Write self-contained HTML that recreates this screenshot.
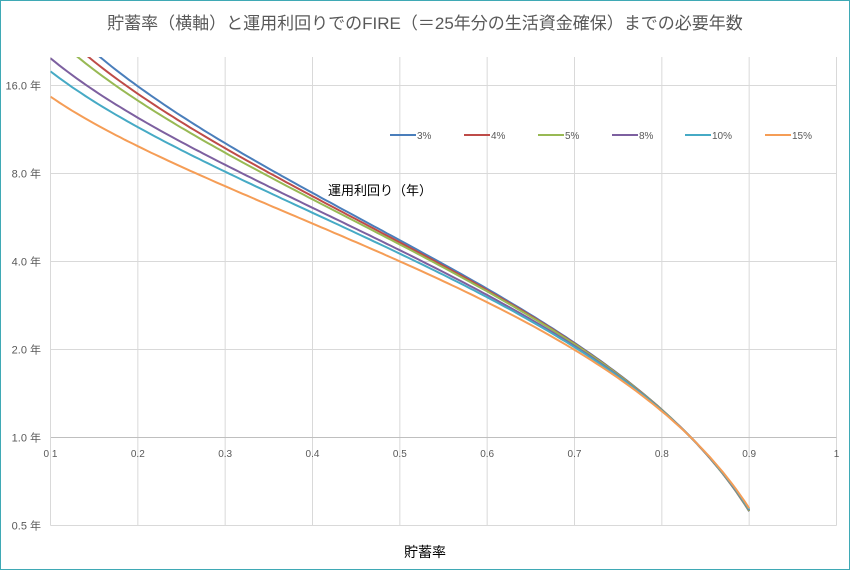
<!DOCTYPE html>
<html><head><meta charset="utf-8"><style>
body{margin:0;background:#fff}
#c{position:relative;width:848px;height:568px;border:1px solid #3fa9b5;background:#fff;font-family:"Liberation Sans","Noto Sans CJK JP",sans-serif}
</style></head><body><div id="c">
<svg id="s" width="848" height="568" xmlns="http://www.w3.org/2000/svg" style="position:absolute;left:0;top:0;font-family:'Liberation Sans','Noto Sans CJK JP',sans-serif">
<text x="424" y="28" font-size="17" fill="#595959" text-anchor="middle">貯蓄率（横軸）と運用利回りでのFIRE（＝25年分の生活資金確保）までの必要年数</text>
<text x="424" y="556" font-size="14" fill="#000" text-anchor="middle">貯蓄率</text>
<text x="327" y="194" font-size="13" fill="#000">運用利回り（年）</text>
<g id="grid"></g><g id="lines"></g><g id="leg"></g>
</svg>
<script>
var s=document.getElementById('s'),NS="http://www.w3.org/2000/svg";
function el(t,a,p,txt){var e=document.createElementNS(NS,t);for(var k in a)e.setAttribute(k,a[k]);if(txt)e.textContent=txt;(p||s).appendChild(e);return e;}
var g=document.getElementById('grid'),L=document.getElementById('lines'),G=document.getElementById('leg');
var X0=49.5,X1=835.5,T=56,B=524.5;
function X(v){return X0+(v-0.1)/0.9*(X1-X0);}
function Y(n){return 436.5-88*Math.log2(n);}
for(var i=1;i<=10;i++){var x=X(i/10);el('line',{x1:x,x2:x,y1:T,y2:B,stroke:'#d9d9d9'},g);
el('text',{x:x,y:456,'font-size':10,'text-anchor':'middle',fill:'#595959'},g,i==10?'1':(i/10).toFixed(1));}
[0.5,1,2,4,8,16].forEach(function(n){var y=Y(n);el('line',{x1:X0,x2:X1,y1:y,y2:y,stroke:n==1?'#bfbfbf':'#d9d9d9'},g);
el('text',{x:40,y:y+4,'font-size':11,'text-anchor':'end',fill:'#595959'},g,n.toFixed(1)+' 年');});
el('line',{x1:X0,x2:X0,y1:T,y2:B,stroke:'#d9d9d9'},g);
var cp=el('clipPath',{id:'cp'});el('rect',{x:X0,y:T,width:X1-X0,height:B-T},cp);
L.setAttribute('clip-path','url(#cp)');
var ser=[[0.03,'#4a7ebb','3%',389],[0.04,'#be4b48','4%',463],[0.05,'#98b954','5%',537],[0.08,'#7d60a0','8%',611],[0.10,'#46aac5','10%',684],[0.15,'#f59d56','15%',764]];
ser.forEach(function(q){var r=q[0],d='';
for(var v=0.1;v<=0.9001;v+=0.005){var n=Math.log(1+5*r*(1-v)/v)/Math.log(1+r);d+=(d?'L':'M')+X(v).toFixed(1)+','+Y(n).toFixed(1);}
el('path',{d:d,fill:'none',stroke:q[1],'stroke-width':2},L);
el('line',{x1:q[3],x2:q[3]+26,y1:134,y2:134,stroke:q[1],'stroke-width':2},G);
el('text',{x:q[3]+27,y:138,'font-size':10,fill:'#595959'},G,q[2]);});
</script>
</div></body></html>
